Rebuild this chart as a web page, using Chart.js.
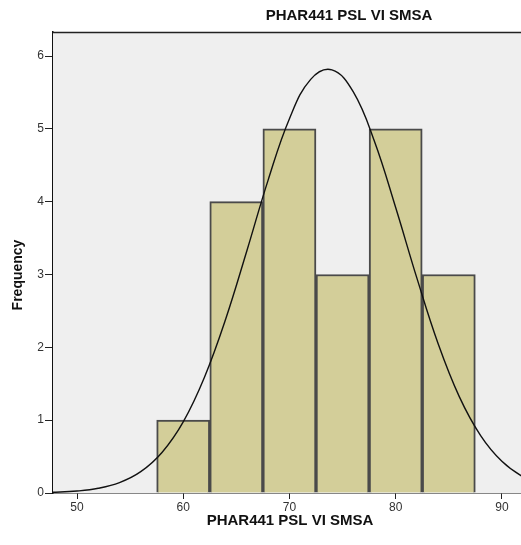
<!DOCTYPE html>
<html>
<head>
<meta charset="utf-8">
<script src="https://cdn.jsdelivr.net/npm/chart.js@4.4.1/dist/chart.umd.min.js"></script>
<style>
  html, body { margin: 0; padding: 0; background: #fff; }
  #wrap { width: 521px; height: 545px; }
</style>
</head>
<body>
<div id="wrap"><canvas id="hist"></canvas></div>
<script>
// histogram bins (bin centres, width 5) and counts
const binCenters = [60, 65, 70, 75, 80, 85];
const binCounts = [1, 4, 5, 3, 5, 3];

// normal curve samples
const curveX = [46, 48, 50, 52, 54, 56, 58, 60, 62, 64, 66, 68, 70, 72, 74, 76, 78, 80, 82, 84, 86, 88, 90, 92, 94];
const curveY = [0.004, 0.011, 0.027, 0.065, 0.143, 0.293, 0.557, 0.977, 1.59, 2.39, 3.33, 4.30, 5.14, 5.68, 5.81, 5.51, 4.83, 3.92, 2.95, 2.05, 1.32, 0.788, 0.435, 0.222, 0.105];

const xTicks = [50, 60, 70, 80, 90];
const yTicks = [0, 1, 2, 3, 4, 5, 6];

const titleText = 'PHAR441 PSL VI SMSA';
const xTitle = 'PHAR441 PSL VI SMSA';
const yTitle = 'Frequency';

// grey plot background + titles
const frame = {
    id: 'frame',
    beforeDatasetsDraw(chart) {
        const { ctx, chartArea: a } = chart;
        ctx.save();
        ctx.fillStyle = '#efefef';
        ctx.fillRect(a.left, a.top, a.right - a.left, a.bottom - a.top);
        ctx.restore();
    },
    afterDraw(chart) {
        const { ctx, chartArea: a } = chart;
        ctx.save();
        ctx.strokeStyle = '#222';
        ctx.lineWidth = 1.5;
        ctx.beginPath();
        ctx.moveTo(a.left, a.top + 0.5);
        ctx.lineTo(a.right, a.top + 0.5);
        ctx.stroke();

        ctx.fillStyle = '#111';
        ctx.font = 'bold 15px "Liberation Sans", Arial, sans-serif';
        ctx.textAlign = 'center';
        ctx.textBaseline = 'middle';
        ctx.fillText(titleText, 349, 16);
        ctx.fillText(xTitle, 290, 521);

        ctx.translate(18, 275);
        ctx.rotate(-Math.PI / 2);
        ctx.font = 'bold 14px "Liberation Sans", Arial, sans-serif';
        ctx.fillText(yTitle, 0, 0);
        ctx.restore();
    }
};

const tickFont = { family: '"Liberation Sans", Arial, sans-serif', size: 12 };

new Chart(document.getElementById('hist'), {
    data: {
        datasets: [
            {
                type: 'line',
                data: curveX.map((x, i) => ({ x: x, y: curveY[i] })),
                borderColor: '#111',
                borderWidth: 1.4,
                pointRadius: 0,
                tension: 0.4,
                fill: false,
                order: 0
            },
            {
                type: 'bar',
                data: binCenters.map((x, i) => ({ x: x, y: binCounts[i] })),
                backgroundColor: 'rgb(211, 206, 153)',
                borderColor: '#4a4a4a',
                borderWidth: 2,
                barPercentage: 1,
                categoryPercentage: 1,
                order: 1
            }
        ]
    },
    options: {
        responsive: true,
        maintainAspectRatio: false,
        animation: false,
        layout: { padding: { top: 32, left: 0, right: 0, bottom: 0 } },
        plugins: {
            legend: { display: false },
            tooltip: { enabled: false }
        },
        scales: {
            x: {
                type: 'linear',
                min: 47.74,
                max: 91.8,
                offset: false,
                afterFit: s => { s.height = 52; },
                afterBuildTicks: s => { s.ticks = xTicks.map(v => ({ value: v })); },
                ticks: { color: '#333', font: tickFont, padding: 1, maxRotation: 0 },
                grid: { drawOnChartArea: false, drawTicks: true, tickLength: 6, color: '#222', offset: false },
                border: { display: true, color: '#111', width: 1.5 }
            },
            y: {
                min: 0,
                max: 6.33,
                afterFit: s => { s.width = 53; },
                afterBuildTicks: s => { s.ticks = yTicks.map(v => ({ value: v })); },
                ticks: { color: '#333', font: tickFont, padding: 1 },
                grid: { drawOnChartArea: false, drawTicks: true, tickLength: 8, color: '#222' },
                border: { display: true, color: '#111', width: 1.5 }
            }
        }
    },
    plugins: [frame]
});
</script>
</body>
</html>
